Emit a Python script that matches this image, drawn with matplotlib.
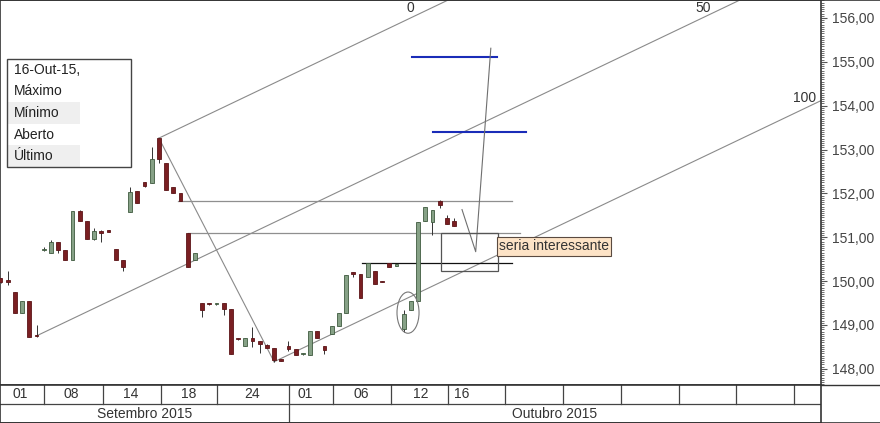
import matplotlib.pyplot as plt
from matplotlib.patches import Rectangle, Ellipse
from matplotlib.lines import Line2D
from matplotlib.ticker import MultipleLocator, FuncFormatter

plt.rcParams['font.family'] = ['Liberation Sans', 'DejaVu Sans']

# daily candles (bar index = position in list)
opens = [150.06, 150.03, 149.76, 149.28, 149.54, 148.78, 150.70, 150.65, 150.88, 150.72,
         150.49, 151.59, 151.36, 150.95, 151.15, 151.15, 150.74, 150.49, 151.57, 152.05,
         152.25, 152.23, 153.26, 152.69, 152.14, 152.00, 151.09, 150.49, 149.51, 149.49,
         149.48, 149.49, 149.37, 148.69, 148.53, 148.71, 148.64, 148.55, 148.48, 148.23,
         148.53, 148.46, 148.33, 148.32, 148.87, 148.53, 148.80, 148.98, 149.28, 150.19,
         150.17, 150.10, 150.22, 150.00, 150.42, 150.35, 148.91, 149.33, 149.55, 151.38,
         151.34, 151.82, 151.43, 151.36]
highs = [150.08, 150.24, 149.76, 149.55, 149.54, 149.00, 150.77, 150.93, 150.90, 150.72,
         151.59, 151.61, 151.36, 151.22, 151.16, 151.16, 150.74, 150.49, 152.14, 152.05,
         152.27, 153.05, 153.26, 152.69, 152.14, 152.00, 151.09, 150.65, 149.51, 149.51,
         149.51, 149.49, 149.37, 148.71, 148.71, 148.96, 148.64, 148.56, 148.48, 148.23,
         148.64, 148.46, 148.35, 148.87, 148.87, 148.53, 148.98, 149.28, 150.13, 150.20,
         150.17, 150.42, 150.22, 150.00, 150.42, 150.38, 149.33, 149.55, 151.34, 151.70,
         151.63, 151.86, 151.50, 151.43]
lows = [149.95, 149.92, 149.28, 149.28, 148.73, 148.73, 150.68, 150.63, 150.63, 150.49,
        150.49, 151.36, 150.95, 150.93, 150.88, 151.12, 150.49, 150.24, 151.57, 151.79,
        152.14, 152.23, 152.69, 152.07, 152.00, 151.82, 150.33, 150.49, 149.17, 149.46,
        149.46, 149.23, 148.34, 148.66, 148.53, 148.50, 148.37, 148.47, 148.16, 148.17,
        148.41, 148.32, 148.32, 148.32, 148.71, 148.34, 148.80, 148.98, 149.28, 150.10,
        149.62, 150.10, 149.94, 149.97, 150.31, 150.34, 148.85, 149.33, 149.55, 151.38,
        151.04, 151.66, 151.31, 151.25]
closes = [149.97, 149.97, 149.28, 149.55, 148.73, 148.74, 150.74, 150.88, 150.70, 150.49,
          151.59, 151.36, 150.95, 151.15, 151.09, 151.13, 150.49, 150.31, 152.02, 151.79,
          152.16, 152.78, 152.78, 152.07, 152.00, 151.82, 150.33, 150.65, 149.35, 149.48,
          149.49, 149.37, 148.34, 148.68, 148.71, 148.64, 148.57, 148.48, 148.21, 148.18,
          148.46, 148.32, 148.34, 148.87, 148.71, 148.43, 148.98, 149.28, 150.13, 150.17,
          149.62, 150.42, 149.94, 149.97, 150.31, 150.37, 149.26, 149.55, 151.34, 151.70,
          151.63, 151.73, 151.31, 151.25]

# Andrews pitchfork pivots (bar, price)
pivot_bars = [5, 22, 38]
pivot_prices = [148.75, 153.26, 148.16]
fork_labels = ['0', '50', '100']

# horizontal levels drawn on the chart
gray_levels = [151.82, 151.10]
gray_spans = [(24.7, 71.0), (26.0, 72.1)]
black_level = 150.42
black_span = (50.2, 71.0)
blue_levels = [155.10, 153.41]
blue_spans = [(57.2, 69.0), (60.1, 73.0)]

# projected path and target box
path_bars = [64.1, 66.0, 68.1]
path_prices = [151.63, 150.67, 155.31]
box_bars = (61.2, 69.1)
box_prices = (150.24, 151.09)

legend_rows = ['16-Out-15,', 'Máximo', 'Mínimo', 'Aberto', 'Último']
date_labels = ['01', '08', '14', '18', '24', '01', '06', '12', '16']
date_label_bars = [2.7, 9.8, 18.1, 26.2, 34.9, 42.3, 50.1, 58.3, 64.1]
cell_edges = [6.05, 14.25, 22.3, 30.1, 40.05, 46.2, 54.2, 62.15, 70.1, 78.1,
              86.2, 94.2, 102.15, 110.2]
months = ['Setembro 2015', 'Outubro 2015']
month_edges = [-0.07, 40.05, 113.96]

W, H = 880, 423
fig = plt.figure(figsize=(8.8, 4.23), dpi=100)
ax = fig.add_axes([0, 38 / H, 821 / W, 385 / H])
ax.set_xlim(month_edges[0], month_edges[-1])
ax.set_ylim(147.63, 156.41)

# candles
for i in range(len(opens)):
    o, h, l, c = opens[i], highs[i], lows[i], closes[i]
    up = c >= o
    ax.vlines(i, l, h, color='#333333', lw=0.7, zorder=2)
    bottom = min(o, c)
    height = max(abs(c - o), 0.03)
    ax.bar(i, height, bottom=bottom, width=0.55,
           color='#86a186' if up else '#7a1f22',
           edgecolor='#3f5a3f' if up else '#5c1518', lw=0.6, zorder=3)

# pitchfork
slope = ((pivot_prices[1] + pivot_prices[2]) / 2 - pivot_prices[0]) / \
        ((pivot_bars[1] + pivot_bars[2]) / 2 - pivot_bars[0])
end = 130
for b, p in zip(pivot_bars, pivot_prices):
    ax.plot([b, end], [p, p + slope * (end - b)], color='#8a8a8a', lw=0.8, zorder=1)
ax.plot(pivot_bars[1:], pivot_prices[1:], color='#8a8a8a', lw=0.8, zorder=1)
ax.text(56.9, 156.23, fork_labels[0], fontsize=10, color='#333333', ha='center', va='center')
ax.text(97.6, 156.23, fork_labels[1], fontsize=10, color='#333333', ha='center', va='center')
ax.text(111.7, 154.17, fork_labels[2], fontsize=10, color='#333333', ha='center', va='center')

for lvl, (x0, x1) in zip(gray_levels, gray_spans):
    ax.plot([x0, x1], [lvl, lvl], color='#8f8f8f', lw=0.9, zorder=1)
ax.plot(black_span, [black_level, black_level], color='#111111', lw=0.9, zorder=1)
for lvl, (x0, x1) in zip(blue_levels, blue_spans):
    ax.plot([x0, x1], [lvl, lvl], color='#1a2cb8', lw=1.5, zorder=4)

ax.plot(path_bars, path_prices, color='#6f6f6f', lw=0.8, zorder=4)
ax.add_patch(Rectangle((box_bars[0], box_prices[0]), box_bars[1] - box_bars[0],
                       box_prices[1] - box_prices[0], fill=False,
                       edgecolor='#555555', lw=0.9, zorder=4))
ax.add_patch(Ellipse((56.6, 149.28), 3.06, 0.94, fill=False,
                     edgecolor='#777777', lw=0.8, zorder=4))
ax.text(69.25, 150.79, 'seria interessante', fontsize=10, color='#333333',
        ha='left', va='center', zorder=5,
        bbox=dict(boxstyle='square,pad=0.15', facecolor='#fde3c6',
                  edgecolor='#5a4a40', lw=0.8))

# right price axis
ax.yaxis.tick_right()
ax.yaxis.set_major_locator(MultipleLocator(1))
ax.yaxis.set_minor_locator(MultipleLocator(0.05))
ax.yaxis.set_major_formatter(FuncFormatter(lambda v, _: f'{v:.2f}'.replace('.', ',')))
ax.tick_params(axis='y', which='major', length=4, width=0.8, pad=4,
               labelsize=10, labelcolor='#444444', color='#555555')
ax.tick_params(axis='y', which='minor', length=2, width=0.6, color='#555555')
ax.set_xticks([])
for s in ax.spines.values():
    s.set_color('#333333')
    s.set_linewidth(1.2)

# info box
fx = lambda px: px / W
fy = lambda py: 1 - py / H
row_h = 21.6
for k, label in enumerate(legend_rows):
    top = 59 + k * row_h
    if k in (2, 4):
        fig.add_artist(Rectangle((fx(7), fy(top + row_h)), fx(80) - fx(7), row_h / H,
                                 transform=fig.transFigure, facecolor='#efefef',
                                 edgecolor='none'))
    fig.text(fx(14), fy(top + row_h / 2), label, fontsize=10, color='#222222',
             ha='left', va='center')
fig.add_artist(Rectangle((fx(7), fy(167)), fx(131) - fx(7), 108 / H,
                         transform=fig.transFigure, fill=False,
                         edgecolor='#444444', lw=1.0))

# date bar
axd = fig.add_axes([0, 0, 821 / W, 38 / H])
axd.set_xlim(month_edges[0], month_edges[-1])
axd.set_ylim(0, 1)
axd.set_xticks([])
axd.set_yticks([])
for s in axd.spines.values():
    s.set_color('#333333')
    s.set_linewidth(1.2)
axd.axhline(0.5, color='#444444', lw=0.9)
for e in cell_edges:
    axd.plot([e, e], [0.5, 1], color='#444444', lw=0.9)
axd.plot([month_edges[1]] * 2, [0, 0.5], color='#444444', lw=0.9)
for lab, b in zip(date_labels, date_label_bars):
    axd.text(b, 0.76, lab, fontsize=10, color='#333333', ha='center', va='center')
for k, m in enumerate(months):
    axd.text((month_edges[k] + month_edges[k + 1]) / 2, 0.25, m, fontsize=10,
             color='#333333', ha='center', va='center')

# right column frame
fig.add_artist(Line2D([fx(821), 1], [fy(385), fy(385)], transform=fig.transFigure,
                      color='#333333', lw=1.0))
fig.add_artist(Line2D([0, 1], [fy(422.5), fy(422.5)], transform=fig.transFigure,
                      color='#333333', lw=1.2))
fig.add_artist(Line2D([0, 1], [fy(0.5), fy(0.5)], transform=fig.transFigure,
                      color='#333333', lw=1.2))

fig.savefig('out.png', dpi=100)
